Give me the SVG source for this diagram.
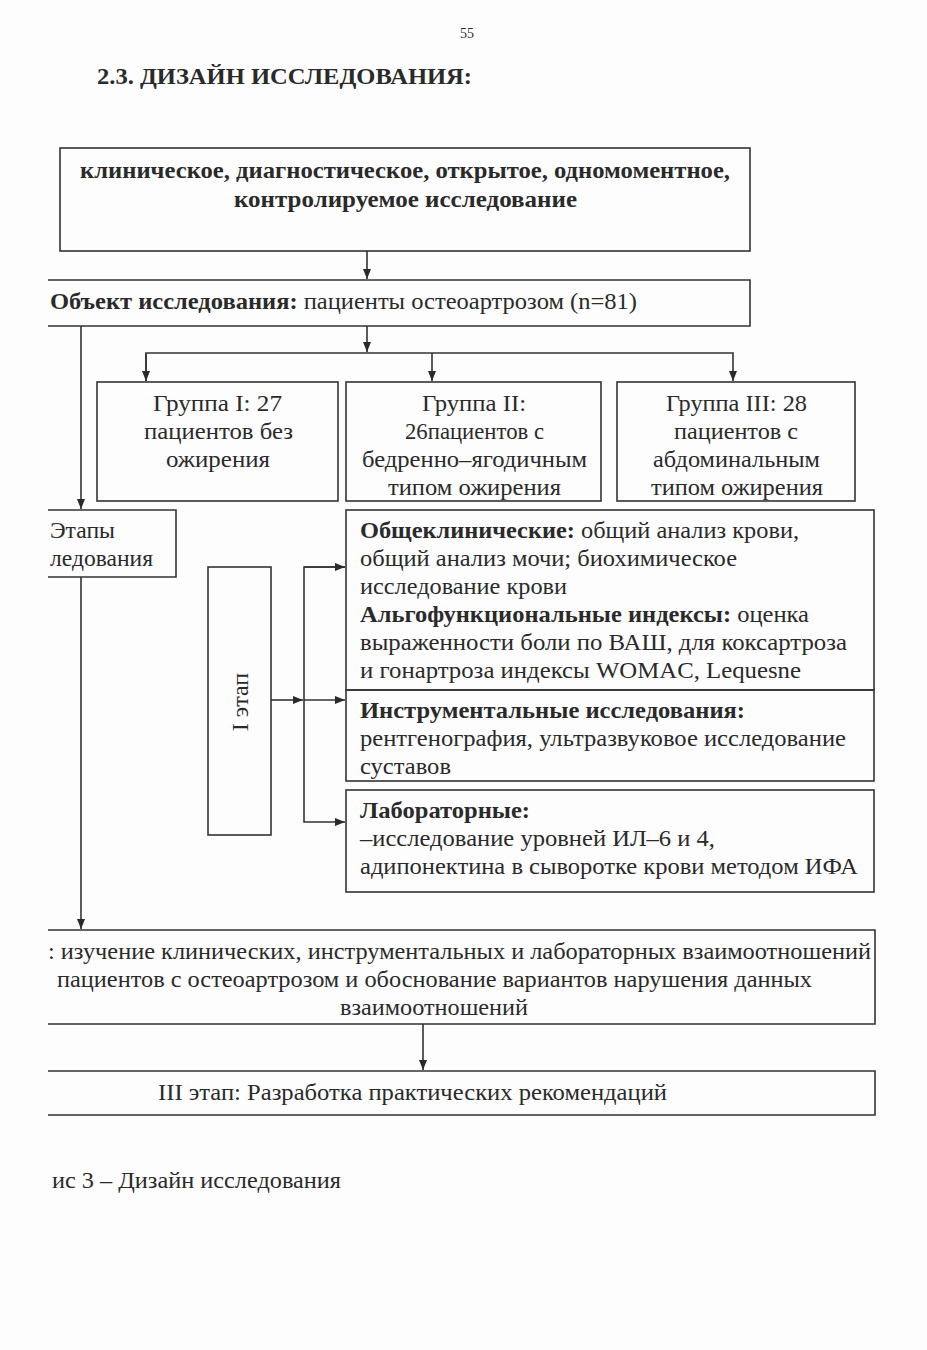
<svg xmlns="http://www.w3.org/2000/svg" width="927" height="1350" viewBox="0 0 927 1350">
<defs>
<marker id="ah" viewBox="0 0 10 10" refX="10" refY="5" markerWidth="10" markerHeight="10" markerUnits="userSpaceOnUse" orient="auto">
<path d="M0,1 L10,5 L0,9 Z" fill="#2a2a2a"/>
</marker>
</defs>
<style>
.t{font-family:"Liberation Serif","Times New Roman",serif;fill:#2a2a2a;font-size:24px}
.b{font-weight:bold}
.box{fill:none;stroke:#333;stroke-width:1.6}
.ln{fill:none;stroke:#333;stroke-width:1.6}
</style>
<rect width="927" height="1350" fill="#fdfdfd"/>
<text class="t" x="467" y="38" style="font-size:14px" text-anchor="middle">55</text>
<text class="t b" x="97" y="84" textLength="375" lengthAdjust="spacingAndGlyphs">2.3. ДИЗАЙН ИССЛЕДОВАНИЯ:</text>

<g id="connectors">
<line class="ln" x1="367" y1="251" x2="367" y2="279" marker-end="url(#ah)"/>
<line class="ln" x1="367" y1="326" x2="367" y2="352" marker-end="url(#ah)"/>
<polyline class="ln" points="146,381 146,353 733,353 733,381" marker-end="url(#ah)"/>
<line class="ln" x1="146" y1="353" x2="146" y2="381" marker-end="url(#ah)"/>
<line class="ln" x1="432" y1="353" x2="432" y2="381" marker-end="url(#ah)"/>
<line class="ln" x1="81" y1="326" x2="81" y2="509" marker-end="url(#ah)"/>
<line class="ln" x1="81" y1="577" x2="81" y2="929" marker-end="url(#ah)"/>
<line class="ln" x1="271" y1="700" x2="303" y2="700" marker-end="url(#ah)"/>
<polyline class="ln" points="345,567 304,567 304,822 345,822" marker-end="url(#ah)"/>
<line class="ln" x1="304" y1="567" x2="345" y2="567" marker-end="url(#ah)"/>
<line class="ln" x1="304" y1="700" x2="345" y2="700" marker-end="url(#ah)"/>
<line class="ln" x1="423" y1="1024" x2="423" y2="1070" marker-end="url(#ah)"/>
</g>

<g id="n-design">
<rect class="box" x="60" y="148" width="690" height="103"/>
<text class="t b" x="80" y="178" textLength="650" lengthAdjust="spacingAndGlyphs">клиническое, диагностическое, открытое, одномоментное,</text>
<text class="t b" x="234" y="207" textLength="343" lengthAdjust="spacingAndGlyphs">контролируемое  исследование</text>
</g>

<g id="n-object">
<polyline class="box" points="48,280 750,280 750,326 48,326"/>
<text class="t" x="50" y="309" textLength="587" lengthAdjust="spacingAndGlyphs"><tspan class="b">Объект исследования:</tspan> пациенты остеоартрозом (n=81)</text>
</g>

<g id="n-g1">
<rect class="box" x="97" y="382" width="241" height="119"/>
<text class="t" x="153" y="411" textLength="129" lengthAdjust="spacingAndGlyphs">Группа I: 27</text>
<text class="t" x="144" y="439" textLength="149" lengthAdjust="spacingAndGlyphs">пациентов без</text>
<text class="t" x="166" y="467" textLength="104" lengthAdjust="spacingAndGlyphs">ожирения</text>
</g>

<g id="n-g2">
<rect class="box" x="346" y="382" width="255" height="119"/>
<text class="t" x="422" y="411" textLength="104" lengthAdjust="spacingAndGlyphs">Группа II:</text>
<text class="t" x="405" y="439" textLength="139" lengthAdjust="spacingAndGlyphs">26пациентов с</text>
<text class="t" x="362" y="467" textLength="225" lengthAdjust="spacingAndGlyphs">бедренно–ягодичным</text>
<text class="t" x="388" y="495" textLength="173" lengthAdjust="spacingAndGlyphs">типом ожирения</text>
</g>

<g id="n-g3">
<rect class="box" x="617" y="382" width="238" height="119"/>
<text class="t" x="666" y="411" textLength="141" lengthAdjust="spacingAndGlyphs">Группа III: 28</text>
<text class="t" x="674" y="439" textLength="124" lengthAdjust="spacingAndGlyphs">пациентов с</text>
<text class="t" x="653" y="467" textLength="167" lengthAdjust="spacingAndGlyphs">абдоминальным</text>
<text class="t" x="651" y="495" textLength="172" lengthAdjust="spacingAndGlyphs">типом ожирения</text>
</g>

<g id="n-stages">
<polyline class="box" points="48,510 176,510 176,577 48,577"/>
<text class="t" x="50" y="538" textLength="65" lengthAdjust="spacingAndGlyphs">Этапы</text>
<text class="t" x="50" y="566" textLength="103" lengthAdjust="spacingAndGlyphs">ледования</text>
</g>

<g id="n-stage1">
<rect class="box" x="208" y="567" width="63" height="268"/>
<text class="t" x="0" y="0" text-anchor="middle" transform="translate(248,702) rotate(-90)">I этап</text>
</g>

<g id="n-clinical">
<rect class="box" x="346" y="510" width="528" height="180"/>
<text class="t" x="360" y="538" textLength="439" lengthAdjust="spacingAndGlyphs"><tspan class="b">Общеклинические:</tspan> общий анализ крови,</text>
<text class="t" x="360" y="566" textLength="377" lengthAdjust="spacingAndGlyphs">общий анализ мочи; биохимическое</text>
<text class="t" x="360" y="594" textLength="207" lengthAdjust="spacingAndGlyphs">исследование крови</text>
<text class="t" x="360" y="622" textLength="449" lengthAdjust="spacingAndGlyphs"><tspan class="b">Альгофункциональные индексы:</tspan> оценка</text>
<text class="t" x="360" y="650" textLength="487" lengthAdjust="spacingAndGlyphs">выраженности боли по ВАШ,  для коксартроза</text>
<text class="t" x="360" y="678" textLength="441" lengthAdjust="spacingAndGlyphs">и гонартроза индексы  WOMAC, Lequesne</text>
</g>

<g id="n-instr">
<rect class="box" x="346" y="690" width="528" height="91"/>
<text class="t b" x="360" y="718" textLength="385" lengthAdjust="spacingAndGlyphs">Инструментальные исследования:</text>
<text class="t" x="360" y="746" textLength="486" lengthAdjust="spacingAndGlyphs">рентгенография, ультразвуковое исследование</text>
<text class="t" x="360" y="774" textLength="91" lengthAdjust="spacingAndGlyphs">суставов</text>
</g>

<g id="n-lab">
<rect class="box" x="346" y="790" width="528" height="102"/>
<text class="t b" x="360" y="818" textLength="170" lengthAdjust="spacingAndGlyphs">Лабораторные:</text>
<text class="t" x="360" y="846" textLength="355" lengthAdjust="spacingAndGlyphs">–исследование уровней ИЛ–6 и 4,</text>
<text class="t" x="360" y="874" textLength="498" lengthAdjust="spacingAndGlyphs">адипонектина в сыворотке крови методом ИФА</text>
</g>

<g id="n-stage2">
<polyline class="box" points="48,930 875,930 875,1024 48,1024"/>
<text class="t" x="48" y="959" textLength="823" lengthAdjust="spacingAndGlyphs">: изучение клинических, инструментальных и лабораторных взаимоотношений</text>
<text class="t" x="57" y="987" textLength="755" lengthAdjust="spacingAndGlyphs">пациентов с остеоартрозом и обоснование вариантов нарушения данных</text>
<text class="t" x="340" y="1015" textLength="188" lengthAdjust="spacingAndGlyphs">взаимоотношений</text>
</g>

<g id="n-stage3">
<polyline class="box" points="48,1071 875,1071 875,1115 48,1115"/>
<text class="t" x="158" y="1100" textLength="509" lengthAdjust="spacingAndGlyphs">III этап: Разработка практических рекомендаций</text>
</g>

<text class="t" x="52" y="1188" textLength="289" lengthAdjust="spacingAndGlyphs">ис 3 – Дизайн исследования</text>
</svg>
